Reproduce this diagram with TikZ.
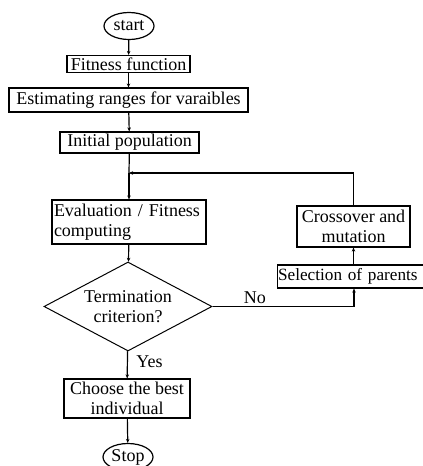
\documentclass[tikz,border=0pt]{standalone}
\usepackage{fontspec}
\setmainfont{Liberation Serif}
\usetikzlibrary{shapes.geometric,arrows.meta}
\begin{document}
\begin{tikzpicture}[x=1pt,y=-1pt,
  every node/.style={font=\fontsize{18}{19.5}\selectfont},
  box/.style={draw,line width=1.2pt,inner sep=0pt,minimum height=#1},
  box/.default=17pt,
  term/.style={draw,ellipse,line width=1.2pt,inner sep=0pt,minimum width=50pt,minimum height=27pt},
  dec/.style={draw,diamond,aspect=1.9,line width=1pt,inner sep=0pt,minimum width=168pt,minimum height=89pt,align=center},
  flow/.style={line width=1.2pt,-{Stealth[length=4pt,width=3.5pt]}},
  line/.style={line width=1.2pt}]
\useasboundingbox (0,0) rectangle (423,466);
\node[term] (start) at (129,26) {start};
\node[box=17pt,minimum width=123pt] (fit) at (128.5,64) {Fitness function};
\node[box=24pt,minimum width=239pt] (est) at (128.5,100) {Estimating ranges for varaibles};
\node[box=21pt,minimum width=139pt] (init) at (129.5,142.5) {Initial population};
\coordinate (merge) at (129,173);
\node[box=44pt,minimum width=154pt,text width=150pt,align=left] (eval) at (129,222) {Evaluation / Fitness\\computing};
\node[dec] (term) at (128,306.5) {Termination\\criterion?};
\node[box=39pt,minimum width=126pt,align=center] (best) at (127,398.5) {Choose the best\\individual};
\node[term] (stop) at (128,457) {Stop};
\node[box=23pt,minimum width=150pt,anchor=west,text width=147pt,align=left,font=\fontsize{17.2}{19}\selectfont] (sel) at (277,276.5) {\hspace*{-1pt}Selection of parents};
\node[box=41pt,minimum width=113pt,align=center] (cross) at (353.5,226.5) {Crossover and\\mutation};
\coordinate (nocorner) at (354,306.5);
\coordinate (backcorner) at (cross.north |- merge);
\draw[flow] (start) -- (fit);
\draw[flow] (fit) -- (est);
\draw[flow] (est) -- (init);
\draw[line] (init) -- (merge);
\draw[flow] (merge) -- (eval);
\draw[flow] (eval) -- (term);
\draw[flow] (term) -- node[right,pos=0.4,xshift=5pt] {Yes} (best);
\draw[flow] (best) -- (stop);
\draw[flow] (term.east) -- node[above,yshift=-1pt,pos=0.3] {No} (nocorner) -- (nocorner |- sel.south);
\draw[flow] (sel.north -| cross.south) -- (cross.south);
\draw[flow] (cross.north) -- (backcorner) -- (merge);
\end{tikzpicture}
\end{document}
